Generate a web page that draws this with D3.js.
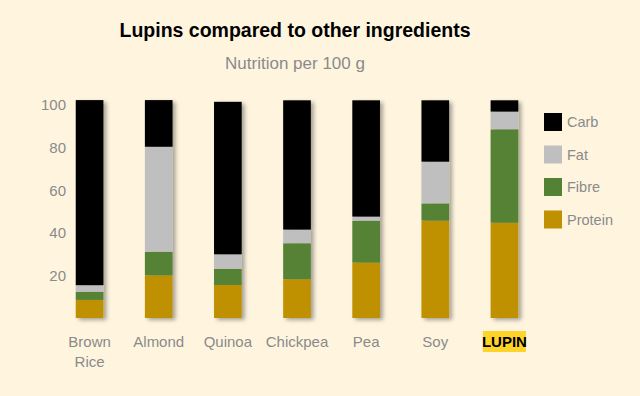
<!DOCTYPE html>
<html>
<head>
  <meta charset="utf-8">
  <title>Lupins compared to other ingredients</title>
  <style>
    body { margin: 0; background: #fff5df; }
    svg { display: block; font-family: "Liberation Sans", Arial, sans-serif; }
    .tick-label, .cat-label, .legend-label { fill: #8a8a8a; font-size: 15px; }
  </style>
</head>
<body>
  <div id="chart-container"></div>

  <script src="https://d3js.org/d3.v7.min.js"></script>
  <script>
// Data (grams per 100 g)
var ingredients = ["Brown Rice", "Almond", "Quinoa", "Chickpea", "Pea", "Soy", "LUPIN"];
var protein = [8.5, 20.0, 15.5, 18.2, 26.0, 45.7, 44.7];
var fibre   = [3.8, 11.1, 7.5, 16.9, 19.7, 8.1, 43.9];
var fat     = [3.1, 49.3, 6.9, 6.4, 1.9, 19.6, 8.3];
var carb    = [86.9, 21.9, 71.6, 60.7, 54.6, 28.8, 5.3];
var yTicks  = [20, 40, 60, 80, 100];

var nutrients = ["Protein", "Fibre", "Fat", "Carb"];
var colours = { Protein: "#bf9000", Fibre: "#548235", Fat: "#bfbfbf", Carb: "#000000" };

var width = 640, height = 396;

var svg = d3.select("#chart-container")
  .append("svg")
  .attr("width", width)
  .attr("height", height);

// soft shadow behind the bars
var filter = svg.append("defs").append("filter")
  .attr("id", "shadow")
  .attr("x", "-30%").attr("y", "-10%")
  .attr("width", "180%").attr("height", "130%");
filter.append("feDropShadow")
  .attr("dx", 3).attr("dy", 2)
  .attr("stdDeviation", 2)
  .attr("flood-color", "#000")
  .attr("flood-opacity", 0.35);

// table for the stack
var table = ingredients.map(function(name, i) {
  return { name: name, Protein: protein[i], Fibre: fibre[i], Fat: fat[i], Carb: carb[i] };
});
var series = d3.stack().keys(nutrients)(table);

var x = d3.scaleBand()
  .domain(ingredients)
  .range([55, 539])
  .paddingInner(0.6)
  .paddingOuter(0.3);

var y = d3.scaleLinear()
  .domain([0, 100])
  .range([318, 105]);

// Title
svg.append("text")
  .attr("x", 295)
  .attr("y", 37)
  .attr("text-anchor", "middle")
  .style("font-size", "19.5px")
  .style("font-weight", "bold")
  .style("fill", "#000")
  .text("Lupins compared to other ingredients");

svg.append("text")
  .attr("x", 295)
  .attr("y", 69)
  .attr("text-anchor", "middle")
  .attr("class", "tick-label")
  .style("font-size", "17px")
  .text("Nutrition per 100 g");

// Bars
var bars = svg.append("g").attr("filter", "url(#shadow)");
bars.selectAll("g")
  .data(series)
  .enter()
  .append("g")
  .attr("fill", function(d) { return colours[d.key]; })
  .selectAll("rect")
  .data(function(d) { return d; })
  .enter()
  .append("rect")
  .attr("x", function(d) { return x(d.data.name); })
  .attr("width", x.bandwidth())
  .attr("y", function(d) { return y(d[1]); })
  .attr("height", function(d) { return y(d[0]) - y(d[1]); });

// Y axis labels (no line, no ticks)
var yAxis = d3.axisLeft(y).tickValues(yTicks).tickSize(0).tickPadding(0);
var yg = svg.append("g")
  .attr("transform", "translate(66,0)")
  .call(yAxis);
yg.select(".domain").remove();
yg.selectAll("text")
  .attr("class", "tick-label")
  .attr("font-family", null)
  .attr("font-size", null);

// X axis labels
var xAxis = d3.axisBottom(x).tickSize(0).tickPadding(0).tickFormat("");
var xg = svg.append("g")
  .attr("transform", "translate(0,347)")
  .call(xAxis);
xg.select(".domain").remove();

xg.selectAll(".tick").each(function(name) {
  var tick = d3.select(this);
  if (name === "LUPIN") {
    tick.append("rect")
      .attr("x", -21.5).attr("y", -16)
      .attr("width", 43).attr("height", 21)
      .attr("fill", "#ffd42a");
    tick.append("text")
      .attr("y", 0)
      .attr("text-anchor", "middle")
      .style("font-size", "15px")
      .style("font-weight", "bold")
      .style("fill", "#000")
      .text(name);
  } else {
    var words = name.split(" ");
    var t = tick.append("text")
      .attr("class", "cat-label")
      .attr("text-anchor", "middle");
    words.forEach(function(w, j) {
      t.append("tspan").attr("x", 0).attr("y", j * 20).text(w);
    });
  }
});

// Legend
var legendOrder = ["Carb", "Fat", "Fibre", "Protein"];
var legend = svg.append("g").attr("transform", "translate(544,113)");
var items = legend.selectAll("g")
  .data(legendOrder)
  .enter()
  .append("g")
  .attr("transform", function(d, i) { return "translate(0," + (i * 32.5) + ")"; });
items.append("rect")
  .attr("width", 18)
  .attr("height", 18)
  .attr("fill", function(d) { return colours[d]; });
items.append("text")
  .attr("class", "legend-label")
  .attr("x", 23)
  .attr("y", 14)
  .style("font-size", "14.5px")
  .text(function(d) { return d; });
  </script>
</body>
</html>
